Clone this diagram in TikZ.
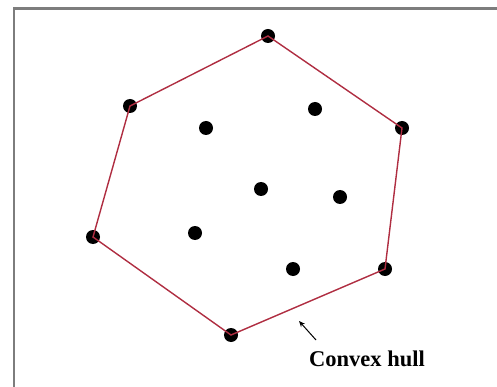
\documentclass[tikz,border=0pt]{standalone}
\usepackage{fontspec}
\setmainfont{Liberation Serif}
\usetikzlibrary{arrows.meta}
\definecolor{hullred}{RGB}{175,45,65}
\definecolor{framegray}{RGB}{125,125,125}
\tikzset{
  pt/.style={circle,fill=black,inner sep=0pt,minimum size=14pt},
  hull/.style={hullred,line width=1.4pt},
}
\begin{document}
\begin{tikzpicture}[x=1pt,y=-1pt]
  \useasboundingbox (0,0) rectangle (497,387);
  % frame
  \draw[framegray,line width=2.2pt] (14,390) -- (14,8.5) -- (500,8.5);
  % hull points
  \node[pt] (top) at (268,36) {};
  \node[pt] (ul) at (130,106) {};
  \node[pt] (le) at (93,237) {};
  \node[pt] (bot) at (231,335) {};
  \node[pt] (lr) at (385,269) {};
  \node[pt] (ri) at (402,128) {};
  % inner points
  \node[pt] (p1) at (206,128) {};
  \node[pt] (p2) at (315,109) {};
  \node[pt] (p3) at (261,189) {};
  \node[pt] (p4) at (340,197) {};
  \node[pt] (p5) at (195,233) {};
  \node[pt] (p6) at (293,269) {};
  % hull
  \draw[hull] (top.center) -- (ri.center) -- (lr.center) -- (bot.center)
    -- (le.center) -- (ul.center) -- cycle;
  % label
  \node[font=\bfseries\fontsize{22.5}{24}\selectfont] (lbl) at (367,359) {Convex hull};
  \coordinate (tail) at (316,340);
  \coordinate (head) at (299,321);
  \draw[-{Stealth[length=6pt,width=5pt]},line width=1pt] (tail) -- (head);
\end{tikzpicture}
\end{document}
